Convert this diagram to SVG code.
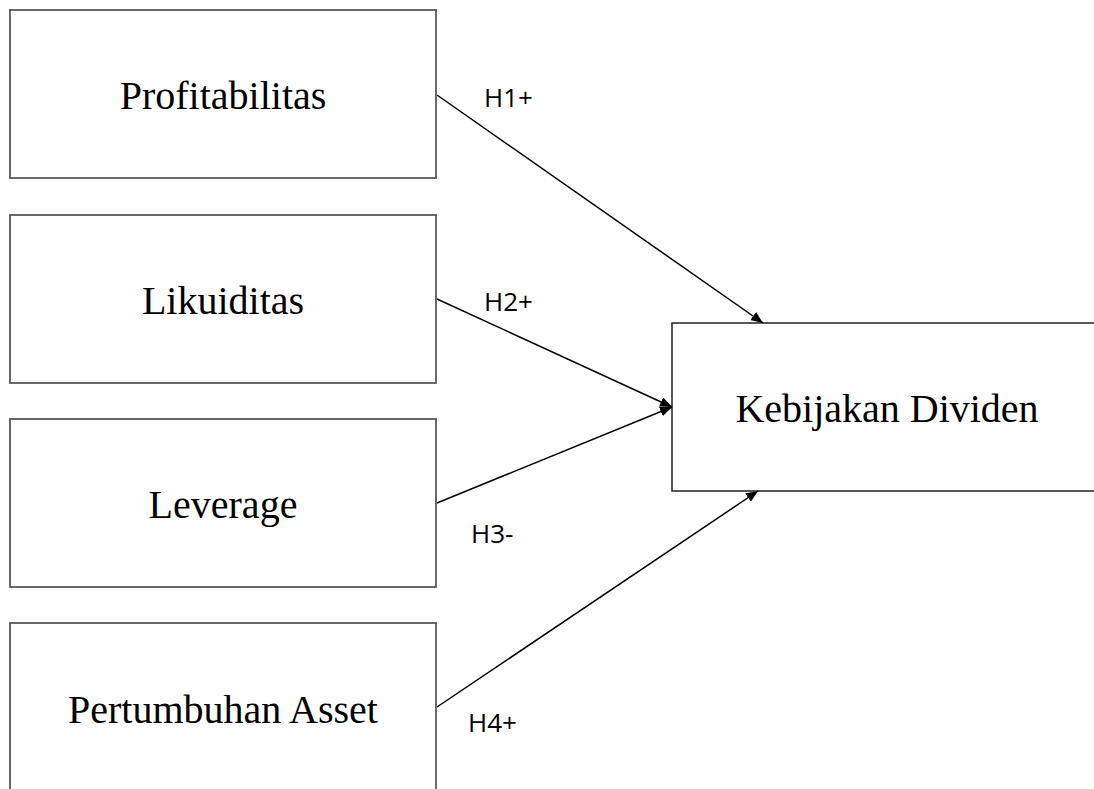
<svg xmlns="http://www.w3.org/2000/svg" width="1094" height="789" viewBox="0 0 1094 789">
<style>
.box{fill:#fff;stroke:#595959;stroke-width:1.8}
.tbox{fill:#fff;stroke:#222;stroke-width:1.5}
.lbl{font-family:"Liberation Serif","Times New Roman",serif;font-size:40px;fill:#000;text-anchor:middle}
.h{font-family:"Open Sans","Liberation Sans",sans-serif;font-size:26px;fill:#000}
.conn{stroke:#000;stroke-width:1.5;fill:none;marker-end:url(#ah)}
</style>
<defs>
<marker id="ah" viewBox="0 0 12 10" refX="12" refY="5" markerWidth="12" markerHeight="10" markerUnits="userSpaceOnUse" orient="auto">
<path d="M0,0 L12,5 L0,10 z" fill="#000"/>
</marker>
</defs>
<rect width="1094" height="789" fill="#fff"/>
<g id="node-profitabilitas">
<rect class="box" x="10" y="10" width="426" height="168"/>
<text class="lbl" x="223" y="109">Profitabilitas</text>
</g>
<g id="node-likuiditas">
<rect class="box" x="10" y="215" width="426" height="168"/>
<text class="lbl" x="223" y="314">Likuiditas</text>
</g>
<g id="node-leverage">
<rect class="box" x="10" y="419" width="426" height="168"/>
<text class="lbl" x="223" y="518">Leverage</text>
</g>
<g id="node-pertumbuhan">
<rect class="box" x="10" y="623" width="426" height="200"/>
<text class="lbl" x="223" y="723">Pertumbuhan Asset</text>
</g>
<g id="node-kebijakan">
<rect class="tbox" x="672" y="323" width="440" height="168"/>
<text class="lbl" x="887" y="422">Kebijakan Dividen</text>
</g>
<g id="connectors">
<line class="conn" x1="437" y1="95" x2="763" y2="323"/>
<line class="conn" x1="437" y1="299" x2="672" y2="407"/>
<line class="conn" x1="437" y1="503" x2="672" y2="407"/>
<line class="conn" x1="437" y1="707" x2="758" y2="491"/>
<text class="h" x="484" y="107">H1+</text>
<text class="h" x="484" y="311">H2+</text>
<text class="h" x="471" y="543">H3-</text>
<text class="h" x="468" y="732">H4+</text>
</g>
</svg>
